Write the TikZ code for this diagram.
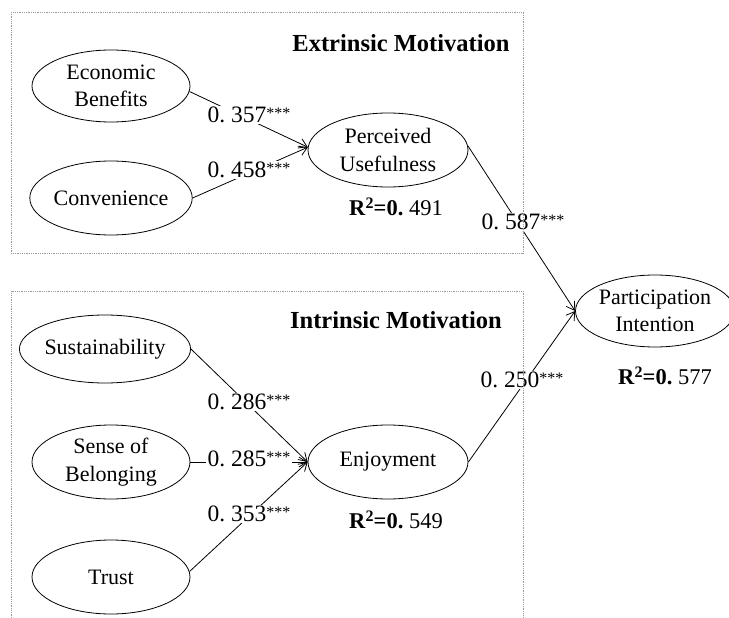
\documentclass[tikz,border=0pt]{standalone}
\usepackage{fontspec}
\setmainfont{Liberation Serif}
\usetikzlibrary{shapes.geometric,arrows.meta}
\newcommand{\stars}{\raisebox{4.5pt}{\fontsize{16}{16}\selectfont ***}}
\newcommand{\rsqv}[1]{\textbf{R}\raisebox{6.5pt}{\fontsize{16}{16}\selectfont\bfseries 2}\textbf{=0.}\ #1}
\begin{document}
\begin{tikzpicture}[x=1pt,y=-1pt,
  lat/.style={draw, ellipse, inner sep=0pt, line width=0.8pt, align=center,
    font=\fontsize{22}{27.5}\selectfont},
  coef/.style={fill=white, inner sep=1.5pt, font=\fontsize{23.5}{26}\selectfont},
  rsq/.style={inner sep=1pt, font=\fontsize{22.5}{26}\selectfont},
  ttl/.style={inner sep=1pt, font=\fontsize{24.5}{28}\selectfont\bfseries},
  conn/.style={draw, line width=0.8pt, -{Straight Barb[length=8pt,width=10pt]}},
  groupbox/.style={draw=gray!80, densely dotted, line width=0.8pt}]
\useasboundingbox (0,0) rectangle (729,618);

% latent variables
\node[lat, minimum width=158pt, minimum height=72pt] (eb) at (111,86) {Economic\\Benefits};
\node[lat, minimum width=158pt, minimum height=74pt] (conv) at (111,198) {Convenience};
\node[lat, minimum width=160pt, minimum height=74pt] (pu) at (388,150) {Perceived\\Usefulness};
\node[lat, minimum width=166pt, minimum height=68pt] (sus) at (105,349) {Sustainability};
\node[lat, minimum width=158pt, minimum height=74pt] (sob) at (111,462) {Sense of\\Belonging};
\node[lat, minimum width=158pt, minimum height=74pt] (trust) at (111,577) {Trust};
\node[lat, minimum width=160pt, minimum height=74pt] (enj) at (388,462) {Enjoyment};
\node[lat, minimum width=144pt, minimum height=72pt] (pi) at (655,311) {Participation\\Intention};

% connectors
\draw[conn] (eb.-4) -- (pu.178);
\draw[conn] (conv.east) -- (pu.178);
\draw[conn] (pu.3) -- (pi.west);
\draw[conn] (sus.east) -- (enj.west);
\draw[conn] (sob.east) -- (enj.west);
\draw[conn] (trust.4) -- (enj.west);
\draw[conn] (enj.east) -- (pi.west);

% coefficients
\node[coef] (c1) at (249,115) {0.\ 357\stars};
\node[coef] (c2) at (249,170) {0.\ 458\stars};
\node[coef] (c3) at (523,222) {0.\ 587\stars};
\node[coef] (c4) at (249,402) {0.\ 286\stars};
\node[coef] (c5) at (249,459) {0.\ 285\stars};
\node[coef] (c6) at (249,514) {0.\ 353\stars};
\node[coef] (c7) at (522,380) {0.\ 250\stars};

% R squared
\node[rsq] (r1) at (396,207) {\rsqv{491}};
\node[rsq] (r2) at (396,520) {\rsqv{549}};
\node[rsq] (r3) at (665,376) {\rsqv{577}};

% group titles
\node[ttl] (t1) at (401,43) {Extrinsic Motivation};
\node[ttl] (t2) at (396,320) {Intrinsic Motivation};

% group boxes
\draw[groupbox] (11,12) rectangle (523,253);
\draw[groupbox] (11,618) -- (11,291) -- (523,291) -- (523,618);
\end{tikzpicture}
\end{document}
